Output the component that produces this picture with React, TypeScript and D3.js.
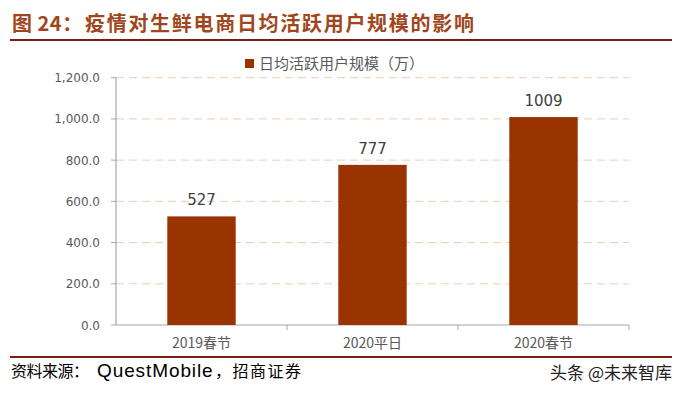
import React from "react";
import * as d3 from "d3";

const categories = ["2019春节", "2020平日", "2020春节"];
const values = [527, 777, 1009];
const yTicks = [0, 200, 400, 600, 800, 1000, 1200];
const seriesName = "日均活跃用户规模（万）";
const titlePrefix = "图 24：";
const titleBody = "疫情对生鲜电商日均活跃用户规模的影响";
const sourceA = "资料来源：";
const sourceB = "QuestMobile";
const sourceC = "，招商证券";
const watermark = "头条 @未来智库";

export default function App() {
  const W = 680, H = 395;
  const left = 116, right = 629, top = 77.7, bottom = 325;
  const x = d3.scaleBand<string>().domain(categories).range([left, right]).paddingInner(0.6).paddingOuter(0.3);
  const y = d3.scaleLinear().domain([0, 1200]).range([bottom, top]);
  const fmt = d3.format(",.1f");
  const bands = d3.scaleBand<string>().domain(categories).range([left, right]);
  const font = "'Noto Sans CJK SC', 'Noto Sans', sans-serif";
  return (
    <svg width={W} height={H} style={{ position: "absolute", left: 0, top: 0, background: "#fff" }}>
      <text x={12} y={31} fontFamily={font} fontSize={20} fontWeight="bold" fill="#A0461C">
        <tspan letterSpacing={0.5}>{titlePrefix}</tspan>
        <tspan x={85} letterSpacing={1.7}>{titleBody}</tspan>
      </text>
      <line x1={10} x2={672} y1={40} y2={40} stroke="#7A1C16" strokeWidth={2} />
      {yTicks.slice(1).map(t => (
        <line key={t} x1={left} x2={right} y1={y(t)} y2={y(t)} stroke="#F6C9B0" strokeWidth={1} strokeDasharray="8,5" />
      ))}
      {yTicks.map(t => (
        <g key={"yt" + t}>
          <line x1={left - 5} x2={left} y1={y(t)} y2={y(t)} stroke="#A6A6A6" />
          <text x={100} y={y(t) + 4.5} textAnchor="end" fontFamily="'DejaVu Sans', Verdana, sans-serif" fontSize={12} fill="#595959">{fmt(t)}</text>
        </g>
      ))}
      <line x1={left} x2={left} y1={top} y2={bottom} stroke="#A6A6A6" strokeWidth={1.2} />
      <line x1={left} x2={right} y1={bottom} y2={bottom} stroke="#A6A6A6" strokeWidth={1.2} />
      {categories.map(c => (
        <line key={"xt" + c} x1={(bands(c) as number) + bands.bandwidth()} x2={(bands(c) as number) + bands.bandwidth()} y1={bottom} y2={bottom + 5} stroke="#A6A6A6" />
      ))}
      {categories.map((c, i) => (
        <g key={c}>
          <rect x={x(c)} y={y(values[i])} width={x.bandwidth()} height={bottom - y(values[i])} fill="#993300" />
          <text x={(x(c) as number) + x.bandwidth() / 2} y={y(values[i]) - 11} textAnchor="middle" fontFamily="'DejaVu Sans', Verdana, sans-serif" fontSize={15} fill="#404040">{values[i]}</text>
          <text x={(bands(c) as number) + bands.bandwidth() / 2} y={348} textAnchor="middle" fontFamily={font} fontSize={14} fill="#595959">{c}</text>
        </g>
      ))}
      <rect x={245} y={59} width={9} height={9} fill="#993300" />
      <text x={259} y={69} fontFamily={font} fontSize={15} fill="#595959">{seriesName}</text>
      <line x1={10} x2={672} y1={357} y2={357} stroke="#7A1C16" strokeWidth={2} />
      <text x={11} y={377} fontFamily={font} fontSize={16} fill="#000">
        <tspan letterSpacing={-0.5}>{sourceA}</tspan>
        <tspan x={97} fontFamily="'Liberation Sans', Arial, sans-serif" fontSize={19} letterSpacing={0.9}>{sourceB}</tspan>
        <tspan x={215} letterSpacing={1.5}>{sourceC}</tspan>
      </text>
      <text x={672} y={379} textAnchor="end" fontFamily={font} fontSize={17} fill="#222">{watermark}</text>
    </svg>
  );
}
